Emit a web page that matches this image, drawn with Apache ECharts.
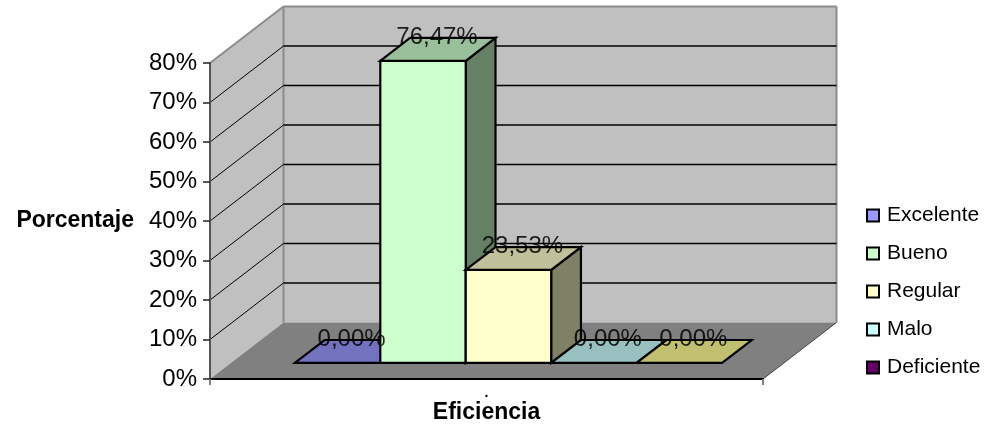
<!DOCTYPE html>
<html>
<head>
<meta charset="utf-8">
<style>html,body{margin:0;padding:0;background:#fff}#chart{width:986px;height:424px}</style>
<script src="https://cdn.jsdelivr.net/npm/echarts@6/dist/echarts.min.js"></script>
</head>
<body>
<div id="chart"></div>
<script>
// Efficiency ratings, one 3D-looking column per rating
const categories = ['.'];
const seriesNames = ['Excelente', 'Bueno', 'Regular', 'Malo', 'Deficiente'];
const seriesValues = [0, 76.47, 23.53, 0, 0];
const yTicks = [0, 10, 20, 30, 40, 50, 60, 70, 80];

const frontColors = ['#9999FF', '#CCFFCC', '#FFFFCC', '#CCFFFF', '#660066'];
const topColors = ['#7272BE', '#99C09A', '#C0C09A', '#99C0C0', '#C0C070'];
const sideColors = ['#666699', '#668066', '#808066', '#668080', '#808040'];

// Oblique projection: screen offset of the back wall from the front plane
const DEPTH = [73.5, -56.5];
const BAR_NEAR = 0.285;
const BAR_FAR = 0.69;
const BAR_SHARE = 0.1545;
const FONT = '"Liberation Sans", Arial, sans-serif';

const shift = (p, d) => [p[0] + DEPTH[0] * d, p[1] + DEPTH[1] * d];
const poly = (points, fill, stroke, lineWidth) => ({
  type: 'polygon',
  shape: { points },
  style: { fill, stroke: stroke || null, lineWidth: lineWidth || 0, lineJoin: 'miter' }
});
const line = (a, b, stroke, lineWidth) => ({
  type: 'line',
  shape: { x1: a[0], y1: a[1], x2: b[0], y2: b[1] },
  style: { stroke, lineWidth }
});

// Back wall, side wall and floor of the box
function renderBox(params, api) {
  const band = api.size([1, 0])[0];
  const c = api.coord([0, 0]);
  const top = api.coord([0, 80]);
  const fl = [c[0] - band / 2, c[1]];
  const fr = [c[0] + band / 2, c[1]];
  const tl = [fl[0], top[1]];
  const tr = [fr[0], top[1]];
  const wallEdge = '#8C8C8C';
  return {
    type: 'group',
    children: [
      poly([shift(tl, 1), shift(tr, 1), shift(fr, 1), shift(fl, 1)], '#C0C0C0'),
      poly([tl, shift(tl, 1), shift(fl, 1), fl], '#C0C0C0'),
      poly([fl, shift(fl, 1), shift(fr, 1), fr], '#808080'),
      line(tl, shift(tl, 1), wallEdge, 2),
      line(shift(tl, 1), shift(tr, 1), wallEdge, 2),
      line(shift(tl, 1), shift(fl, 1), wallEdge, 2),
      line(shift(tr, 1), shift(fr, 1), wallEdge, 2),
      line(shift(fr, 1), fr, '#444444', 1)
    ]
  };
}

// Grid lines run along the side wall and across the back wall
function renderGrid(params, api) {
  const v = api.value(0);
  if (v === 0 || v === 80) return { type: 'group', children: [] };
  const band = api.size([1, 0])[0];
  const c = api.coord([0, v]);
  const l = [c[0] - band / 2, c[1]];
  const r = [c[0] + band / 2, c[1]];
  return {
    type: 'group',
    children: [line(shift(l, 1), shift(r, 1), '#000000', 1.3), line(l, shift(l, 1), '#000000', 1)]
  };
}

// Horizontal extent and height of a prism on the front plane
function prismFrame(index, api) {
  const band = api.size([1, 0])[0];
  const base = api.coord([0, 0]);
  const head = api.coord([0, api.value(1)]);
  const w = band * BAR_SHARE;
  const x0 = base[0] + 1 + (index - 2.5) * w;
  return { base, head, x0, x1: x0 + w };
}

// One prism per rating; a zero value leaves only its top face on the floor
function renderPrism(index) {
  return function (params, api) {
    const { base, head, x0, x1 } = prismFrame(index, api);
    const a = shift([x0, head[1]], BAR_NEAR);
    const b = shift([x1, head[1]], BAR_NEAR);
    const d = shift([x0, base[1]], BAR_NEAR);
    const e = shift([x1, base[1]], BAR_NEAR);
    const step = BAR_FAR - BAR_NEAR;
    const at = (p) => shift(p, step);
    const children = [];
    const edge = 2.2;
    if (api.value(1) > 0) {
      children.push(poly([b, at(b), at(e), e], sideColors[index], '#000', edge));
      children.push(poly([a, b, e, d], frontColors[index], '#000', edge));
    }
    children.push(poly([a, b, at(b), at(a)], topColors[index], '#000', edge));
    return { type: 'group', children };
  };
}

// Value labels sit over every prism, so they get a series of their own
function renderValueLabel(params, api) {
  const index = api.value(0);
  const { head, x0, x1 } = prismFrame(index, api);
  const near = shift([(x0 + x1) / 2, head[1]], BAR_NEAR);
  const far = shift([(x0 + x1) / 2, head[1]], BAR_FAR);
  return {
    type: 'text',
    style: {
      text: api.value(1).toFixed(2).replace('.', ',') + '%',
      x: near[0] + 14,
      y: far[1] - 1,
      align: 'center',
      verticalAlign: 'middle',
      font: '24px ' + FONT,
      fill: 'rgba(0,0,0,0.85)'
    }
  };
}

const chart = echarts.init(document.getElementById('chart'), null, { renderer: 'canvas' });

chart.setOption({
  animation: false,
  backgroundColor: '#ffffff',
  textStyle: { fontFamily: FONT },
  grid: { left: 210, top: 63, width: 553, height: 316, containLabel: false, outerBoundsMode: 'none' },
  xAxis: {
    type: 'category',
    data: categories,
    z: 10,
    name: 'Eficiencia',
    nameLocation: 'middle',
    nameGap: 22,
    nameMoveOverlap: false,
    nameTextStyle: { fontFamily: FONT, fontWeight: 'bold', fontSize: 23, color: '#000' },
    axisLine: { lineStyle: { color: '#000', width: 2 } },
    axisTick: { show: true, length: 6, lineStyle: { color: '#808080', width: 2 } },
    axisLabel: { fontFamily: FONT, fontSize: 14, fontWeight: 'bold', color: '#000', margin: 7 },
    splitLine: { show: false }
  },
  yAxis: {
    type: 'value',
    min: 0,
    max: 80,
    interval: 10,
    z: 10,
    name: 'Porcentaje',
    nameLocation: 'middle',
    nameRotate: 0,
    nameGap: 76,
    nameMoveOverlap: false,
    nameTextStyle: { fontFamily: FONT, fontWeight: 'bold', fontSize: 23, color: '#000' },
    axisLine: { show: true, lineStyle: { color: '#555555', width: 2 } },
    axisTick: { show: true, length: 7, lineStyle: { color: '#222', width: 1.5 } },
    axisLabel: { fontFamily: FONT, fontSize: 24, color: '#000', margin: 13, formatter: '{value}%' },
    splitLine: { show: false }
  },
  legend: {
    orient: 'vertical',
    left: 861,
    top: 200,
    data: seriesNames,
    icon: 'rect',
    itemWidth: 12,
    itemHeight: 12,
    itemGap: 17,
    itemStyle: { borderColor: '#000', borderWidth: 2 },
    textStyle: { fontFamily: FONT, fontSize: 21, color: '#000', padding: [0, 0, 4, 3] },
    selectedMode: false
  },
  series: [
    { type: 'custom', name: 'box', z: 1, silent: true, clip: false, renderItem: renderBox, data: [[0]] },
    { type: 'custom', name: 'grid', z: 2, silent: true, clip: false, renderItem: renderGrid, encode: { x: -1, y: 0 }, data: yTicks.map((v) => [v]) }
  ].concat(seriesNames.map((name, i) => ({
    type: 'custom',
    name,
    z: 3 + i,
    clip: false,
    silent: true,
    itemStyle: { color: frontColors[i] },
    encode: { x: 0, y: 1 },
    renderItem: renderPrism(i),
    data: [[0, seriesValues[i]]]
  }))).concat([{
    type: 'custom',
    name: 'values',
    z: 20,
    clip: false,
    silent: true,
    encode: { x: -1, y: 1 },
    renderItem: renderValueLabel,
    data: seriesValues.map((v, i) => [i, v])
  }])
});
</script>
</body>
</html>
